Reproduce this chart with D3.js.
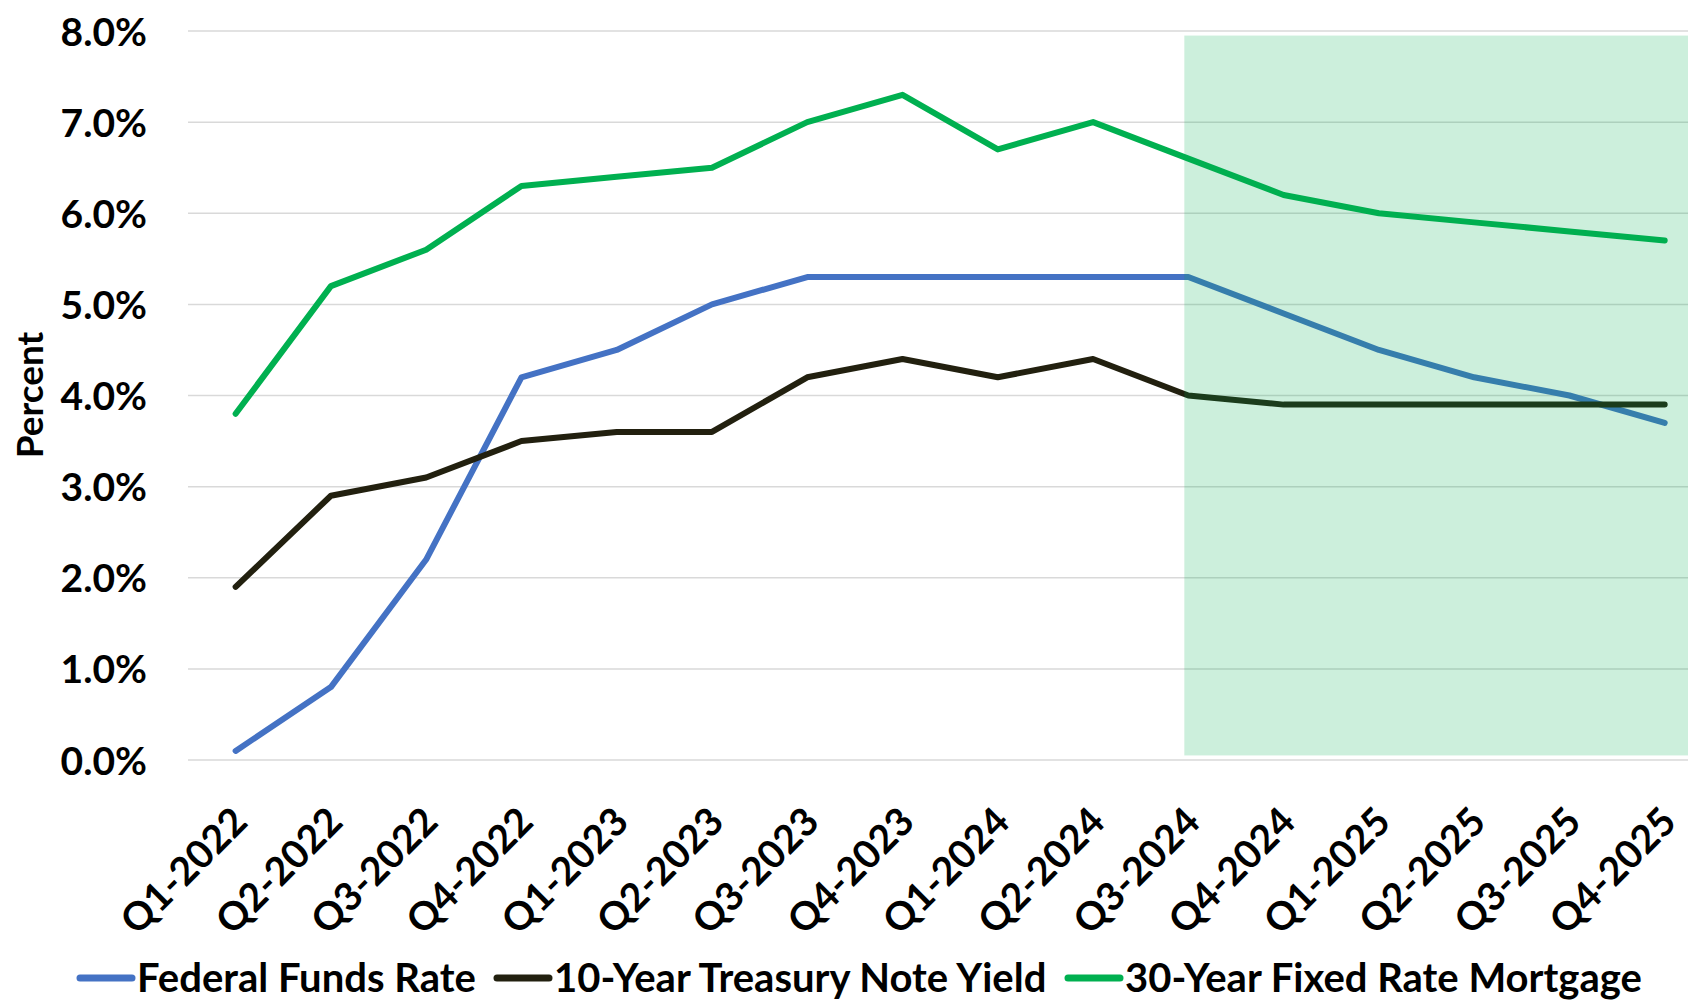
<!DOCTYPE html>
<html>
<head>
<meta charset="utf-8">
<script src="https://cdn.jsdelivr.net/npm/d3@7"></script>
<style>
  body { margin: 0; background: #fff; }
  text { font-family: "Lato", sans-serif; font-weight: bold; fill: #000; }
</style>
</head>
<body>
<svg id="chart"></svg>
<script>
const quarters = ['Q1-2022', 'Q2-2022', 'Q3-2022', 'Q4-2022', 'Q1-2023', 'Q2-2023', 'Q3-2023', 'Q4-2023',
  'Q1-2024', 'Q2-2024', 'Q3-2024', 'Q4-2024', 'Q1-2025', 'Q2-2025', 'Q3-2025', 'Q4-2025']
const fedFunds = [0.1, 0.8, 2.2, 4.2, 4.5, 5.0, 5.3, 5.3, 5.3, 5.3, 5.3, 4.9, 4.5, 4.2, 4.0, 3.7]
const treasury10 = [1.9, 2.9, 3.1, 3.5, 3.6, 3.6, 4.2, 4.4, 4.2, 4.4, 4.0, 3.9, 3.9, 3.9, 3.9, 3.9]
const mortgage30 = [3.8, 5.2, 5.6, 6.3, 6.4, 6.5, 7.0, 7.3, 6.7, 7.0, 6.6, 6.2, 6.0, 5.9, 5.8, 5.7]
const yTicks = [0, 1, 2, 3, 4, 5, 6, 7, 8]
const seriesNames = ['Federal Funds Rate', '10-Year Treasury Note Yield', '30-Year Fixed Rate Mortgage']
// forecast band: starts at this quarter, spans these values
const shadeFrom = 'Q3-2024'
const shadeRange = [0.05, 7.95]

const width = 1688
const height = 1001
const plotLeft = 188
const band = 95.27

const series = [
  { name: seriesNames[0], values: fedFunds, color: '#4472C4' },
  { name: seriesNames[1], values: treasury10, color: '#22200F' },
  { name: seriesNames[2], values: mortgage30, color: '#00B050' }
]

const svg = d3.select('#chart').attr('width', width).attr('height', height)

const x = d3.scalePoint()
  .domain(quarters)
  .range([plotLeft, plotLeft + band * quarters.length])
  .padding(0.5)
const y = d3.scaleLinear().domain([0, 8]).range([760, 31])

// gridlines
svg.append('g')
  .selectAll('line')
  .data(yTicks)
  .join('line')
  .attr('x1', plotLeft)
  .attr('x2', width)
  .attr('y1', d => y(d))
  .attr('y2', d => y(d))
  .attr('stroke', '#d9d9d9')
  .attr('stroke-width', 1.5)

// y axis labels
const yAxis = d3.axisLeft(y).tickValues(yTicks).tickSize(0).tickPadding(0)
  .tickFormat(d => d.toFixed(1) + '%')
svg.append('g')
  .attr('transform', 'translate(147,0)')
  .call(yAxis)
  .call(g => g.select('.domain').remove())
  .selectAll('text')
  .attr('font-size', 39)
  .attr('font-family', null)
  .attr('dy', '0.36em')

svg.append('text')
  .attr('transform', 'translate(30,395) rotate(-90)')
  .attr('text-anchor', 'middle')
  .attr('dy', '0.36em')
  .attr('font-size', 37)
  .text('Percent')

// x axis labels
const xAxis = d3.axisBottom(x).tickSize(0).tickPadding(0)
svg.append('g')
  .call(xAxis)
  .call(g => g.select('.domain').remove())
  .selectAll('.tick')
  .attr('transform', d => `translate(${x(d) + 4},814)`)
  .select('text')
  .attr('font-size', 39)
  .attr('font-family', null)
  .attr('text-anchor', 'end')
  .attr('y', 0)
  .attr('dy', '0.36em')
  .attr('transform', 'rotate(-45)')

// lines
const line = d3.line()
  .x((d, i) => x(quarters[i]))
  .y(d => y(d))

svg.append('g')
  .selectAll('path')
  .data(series)
  .join('path')
  .attr('d', d => line(d.values))
  .attr('fill', 'none')
  .attr('stroke', d => d.color)
  .attr('stroke-width', 6)
  .attr('stroke-linejoin', 'round')
  .attr('stroke-linecap', 'round')

// shaded forecast period, laid over the lines
svg.append('rect')
  .attr('x', x(shadeFrom) - 4)
  .attr('y', y(shadeRange[1]))
  .attr('width', width - x(shadeFrom) + 4)
  .attr('height', y(shadeRange[0]) - y(shadeRange[1]))
  .attr('fill', '#00B050')
  .attr('fill-opacity', 0.2)

// legend
const legendX = [78, 495, 1066]
const legend = svg.append('g')
  .selectAll('g')
  .data(series)
  .join('g')
  .attr('transform', (d, i) => `translate(${legendX[i]},978)`)
legend.append('line')
  .attr('x1', 2)
  .attr('x2', 54)
  .attr('stroke', d => d.color)
  .attr('stroke-width', 7)
  .attr('stroke-linecap', 'round')
legend.append('text')
  .attr('x', 59)
  .attr('dy', '0.34em')
  .attr('font-size', 40)
  .text(d => d.name)
</script>
</body>
</html>
